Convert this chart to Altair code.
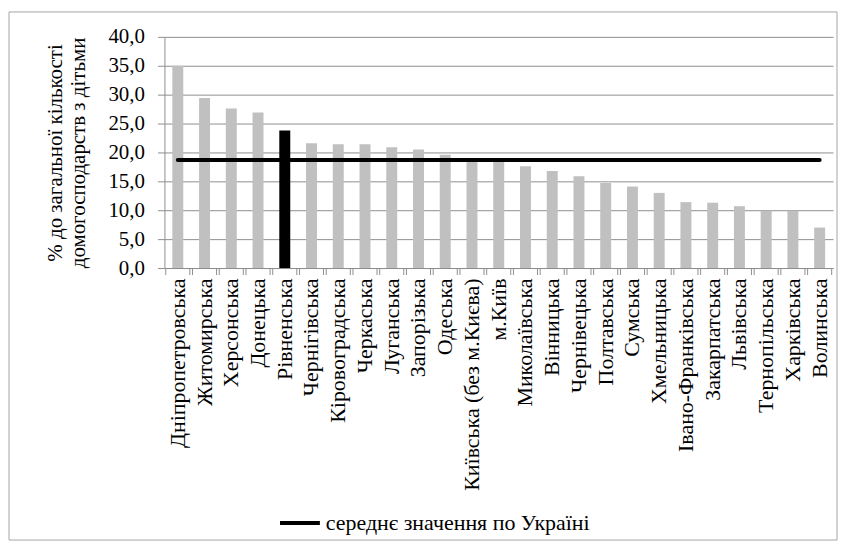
import altair as alt
import pandas as pd

regions = ["Дніпропетровська", "Житомирська", "Херсонська", "Донецька", "Рівненська",
           "Чернігівська", "Кіровоградська", "Черкаська", "Луганська", "Запорізька",
           "Одеська", "Київська (без м.Києва)", "м.Київ", "Миколаївська", "Вінницька",
           "Чернівецька", "Полтавська", "Сумська", "Хмельницька", "Івано-Франківська",
           "Закарпатська", "Львівська", "Тернопільська", "Харківська", "Волинська"]
values = [35.0, 29.4, 27.6, 26.9, 23.8, 21.6, 21.4, 21.4, 20.9, 20.5,
          19.6, 18.5, 18.5, 17.6, 16.8, 15.9, 14.7, 14.1, 13.0, 11.4,
          11.3, 10.7, 9.9, 9.9, 7.0]
highlight = "Рівненська"
mean_value = 18.7
mean_label = "середнє значення по Україні"
y_ticks = [0, 5, 10, 15, 20, 25, 30, 35, 40]

FONT = "Liberation Serif"
W, H = 671, 232

df = pd.DataFrame({"region": regions, "value": values})
df_mean = pd.DataFrame({"region": regions, "value": [mean_value] * len(regions),
                        "series": [mean_label] * len(regions)})

x_axis = alt.Axis(title=None, labelAngle=270, labelPadding=10, ticks=False, labelLimit=0,
                  labelOverlap=False, labelAlign="right", labelBaseline="middle", grid=False,
                  labelFontSize=22)
y_axis = alt.Axis(values=y_ticks, labelExpr="replace(format(datum.value, '.1f'), '.', ',')",
                  labelOverlap=False, grid=True,
                  title=["% до загальної кількості", "домогосподарств з дітьми"],
                  titleLineHeight=24, titlePadding=19, labelPadding=13, tickSize=7)
y_scale = alt.Scale(domain=[0, 40], nice=False)

bars = alt.Chart(df).mark_bar(size=11).encode(
    x=alt.X("region:N", sort=regions, axis=x_axis),
    y=alt.Y("value:Q", scale=y_scale, axis=y_axis),
    color=alt.condition(alt.datum.region == highlight, alt.value("black"), alt.value("#c0c0c0")),
)

ticks_left = alt.Chart(df).mark_rule(color="#8f8f8f", strokeWidth=1).encode(
    x=alt.X("region:N", sort=regions, bandPosition=0, axis=x_axis),
    y=alt.value(H), y2=alt.value(H + 7))
ticks_right = alt.Chart(df).mark_rule(color="#8f8f8f", strokeWidth=1).encode(
    x=alt.X("region:N", sort=regions, bandPosition=1, axis=x_axis),
    y=alt.value(H), y2=alt.value(H + 7))

mean_line = alt.Chart(df_mean).mark_line(strokeWidth=4, strokeCap="round").encode(
    x=alt.X("region:N", sort=regions, axis=x_axis),
    y=alt.Y("value:Q", scale=y_scale, axis=y_axis),
    color=alt.Color("series:N", scale=alt.Scale(domain=[mean_label], range=["black"]),
                    legend=alt.Legend(orient="none", legendX=114, legendY=466, title=None,
                                      symbolType="stroke", symbolStrokeWidth=4, symbolSize=1600,
                                      symbolStrokeColor="black", labelLimit=0, labelOffset=4)),
)

border = alt.Chart(pd.DataFrame({"a": [0]})).mark_rect(fill=None, stroke="#a6a6a6", strokeWidth=1).encode(
    x=alt.value(-156), x2=alt.value(675), y=alt.value(-25), y2=alt.value(505))

chart = alt.layer(border, bars, ticks_left, ticks_right, mean_line).properties(
    width=W, height=H,
    autosize=alt.AutoSizeParams(type="none"),
    padding={"left": 157, "top": 28, "right": 5, "bottom": 275},
).configure(font=FONT).configure_view(stroke=None).configure_axis(
    labelFont=FONT, labelFontSize=21, labelColor="black",
    titleFont=FONT, titleFontSize=21, titleFontWeight="normal", titleColor="black",
    tickColor="#8f8f8f", domainColor="#8f8f8f", gridColor="#8f8f8f",
).configure_legend(labelFont=FONT, labelFontSize=22, labelColor="black")

chart.save("out.html", embed_options={"renderer": "svg", "actions": False})
